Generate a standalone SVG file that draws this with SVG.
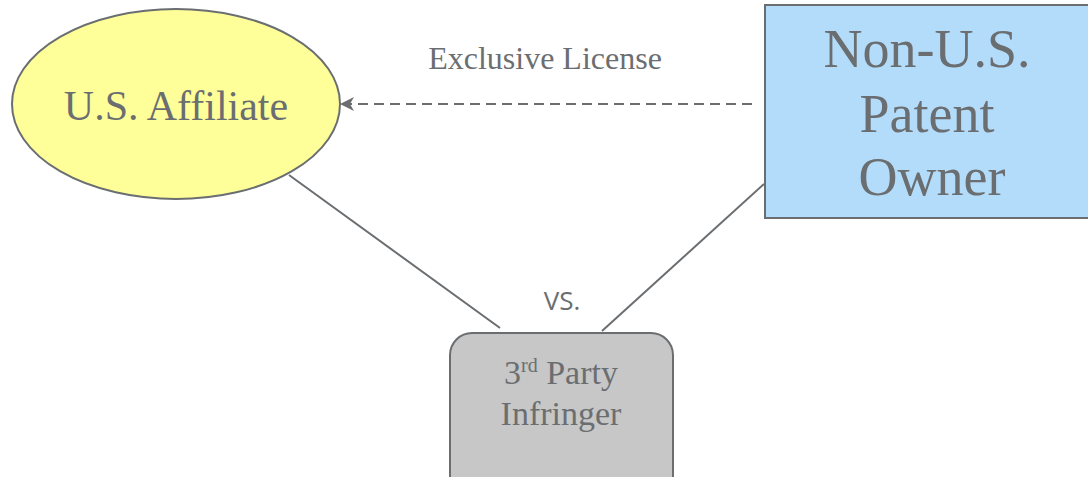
<svg xmlns="http://www.w3.org/2000/svg" width="1088" height="477" viewBox="0 0 1088 477">
<defs>
<style>
.t{font-family:"Liberation Serif","Times New Roman",serif;fill:#6b6e71;text-anchor:middle}
.s{font-family:"Open Sans","Liberation Sans",sans-serif;fill:#6b6e71;text-anchor:middle}
.n{stroke:#6b6e71;stroke-width:2}
.c{stroke:#6b6e71;stroke-width:2;fill:none}
</style>
<marker id="ah" markerWidth="16" markerHeight="16" refX="14" refY="7" orient="auto" markerUnits="userSpaceOnUse" viewBox="0 0 16 14">
<path d="M14,7 L0,0 L4,7 L0,14 Z" fill="#6b6e71"/>
</marker>
</defs>
<rect width="1088" height="477" fill="#ffffff"/>
<g id="connectors">
<line class="c" x1="752" y1="104" x2="340" y2="104" stroke-width="2.5" stroke-dasharray="10,6" marker-end="url(#ah)"/>
<line class="c" x1="289" y1="175" x2="500" y2="328"/>
<line class="c" x1="764" y1="184" x2="602" y2="331"/>
<text class="t" x="545" y="69" font-size="32">Exclusive License</text>
<text class="s" x="562" y="310" font-size="26">VS.</text>
</g>
<g id="us-affiliate">
<ellipse class="n" cx="176" cy="104" rx="164" ry="95" fill="#ffff99"/>
<text class="t" x="176" y="120" font-size="42">U.S. Affiliate</text>
</g>
<g id="patent-owner">
<rect class="n" x="765" y="5" width="330" height="213" fill="#b3dcfb"/>
<text class="t" x="927" y="67" font-size="54">Non-U.S.</text>
<text class="t" x="927" y="132" font-size="54">Patent</text>
<text class="t" x="932" y="195" font-size="54">Owner</text>
</g>
<g id="infringer">
<rect class="n" x="450" y="333" width="223" height="170" rx="22" ry="22" fill="#c6c7c6"/>
<text class="t" x="561" y="384" font-size="34">3<tspan font-size="20" dy="-12">rd</tspan><tspan dy="12"> Party</tspan></text>
<text class="t" x="561" y="425" font-size="34">Infringer</text>
</g>
</svg>
